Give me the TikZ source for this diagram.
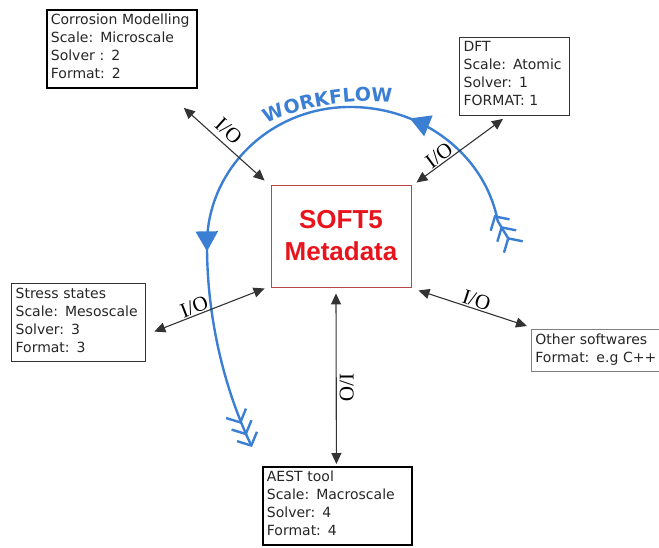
\documentclass[tikz,border=0pt]{standalone}
\usepackage{fontspec}
\usepackage{tikz}
\usetikzlibrary{arrows.meta, decorations.markings, decorations.text}

\newfontfamily\boxfont{DejaVu Sans}
\newfontfamily\metafont{Liberation Sans}
\newfontfamily\iofont{Liberation Serif}

\definecolor{flowblue}{HTML}{3B7FD4}
\definecolor{metared}{HTML}{E8141C}
\definecolor{metaborder}{HTML}{B8474A}

\tikzset{
  infobox/.style={draw, line width=1.3pt, anchor=north west, align=left, inner sep=4pt,
    font=\boxfont\fontsize{14}{18}\selectfont, text=black!85},
  io/.style={line width=1.1pt, draw=black!80, >={Triangle[length=11pt,width=10pt]}, <->},
  iolabel/.style={font=\iofont\fontsize{21}{21}\selectfont, inner sep=1pt},
  chev/.tip={Straight Barb[length=10pt,width=22pt]}
}

\begin{document}
\begin{tikzpicture}[x=1pt, y=-1pt]
  \useasboundingbox (0,0) rectangle (659,547);
  \clip (0,0) rectangle (659,547);

  \node[draw=metaborder, line width=0.9pt, minimum width=140pt, minimum height=102pt,
    align=center, text=metared, font=\metafont\bfseries\fontsize{26}{32}\selectfont]
    (meta) at (341,236) {SOFT5\\Metadata};

  \node[infobox, line width=1.8pt, text width=142pt] (corr) at (46,9)
    {Corrosion Modelling\\Scale: Microscale\\Solver : 2\\Format: 2\strut};
  \node[infobox, draw=black!80, text width=102pt] (dft) at (459,37)
    {DFT\\Scale: Atomic\\Solver: 1\\FORMAT: 1\strut};
  \node[infobox, draw=black!80, text width=126pt] (stress) at (11,283)
    {Stress states\\Scale: Mesoscale\\Solver: 3\\Format: 3\strut};
  \node[infobox, draw=black!50, line width=0.8pt, text width=140pt] (other) at (531,329)
    {Other softwares\\Format: e.g C++\strut};
  \node[infobox, line width=1.8pt, text width=141pt] (aest) at (262,466)
    {AEST tool\\Scale: Macroscale\\Solver: 4\\Format: 4\strut};

  \draw[flowblue, line width=2.4pt,
    arrows={chev[reversed]chev[reversed]chev[reversed]-chev[]chev[]chev[]},
    postaction={decorate, decoration={markings,
      mark=at position 0.26 with {\arrow{Triangle[length=20pt,width=22pt]}},
      mark=at position 0.695 with {\arrow{Triangle[length=20pt,width=22pt]}}}}]
    (514,248) -- (497.7,221)
    arc[start angle=-10, end angle=-90, x radius=150, y radius=138]
    arc[start angle=-90, end angle=-180, x radius=143, y radius=138]
    .. controls (207,320) and (225,390) .. (252,447);
  \path[decorate, decoration={text along path, text align=center, text color=flowblue,
      text={|\boxfont\bfseries\fontsize{19}{19}\selectfont|WORKFLOW}}]
    (260,128) .. controls (298,106) and (350,98) .. (400,103);

  \draw[io] ([shift={(-14,19)}]corr.south east) --
    node[iolabel, sloped, above=4pt, pos=0.45] {I/O} ([shift={(-6,-4)}]meta.north west);
  \draw[io] ([shift={(5,-2)}]meta.north east) --
    node[iolabel, sloped, above, pos=0.32] {I/O} ([shift={(44,3)}]dft.south west);
  \draw[io] ([shift={(8,9)}]stress.east) --
    node[iolabel, sloped, above, pos=0.39] {I/O} ([shift={(-6,1)}]meta.south west);
  \draw[io] ([shift={(7,3)}]meta.south east) --
    node[iolabel, sloped, above, pos=0.51] {I/O} ([shift={(-4,-3)}]other.north west);
  \draw[io] ([shift={(-5,6)}]meta.south) --
    node[iolabel, anchor=south, rotate=-90, inner sep=3pt, pos=0.55] {I/O} ([shift={(-1,-2)}]aest.north);
\end{tikzpicture}
\end{document}
